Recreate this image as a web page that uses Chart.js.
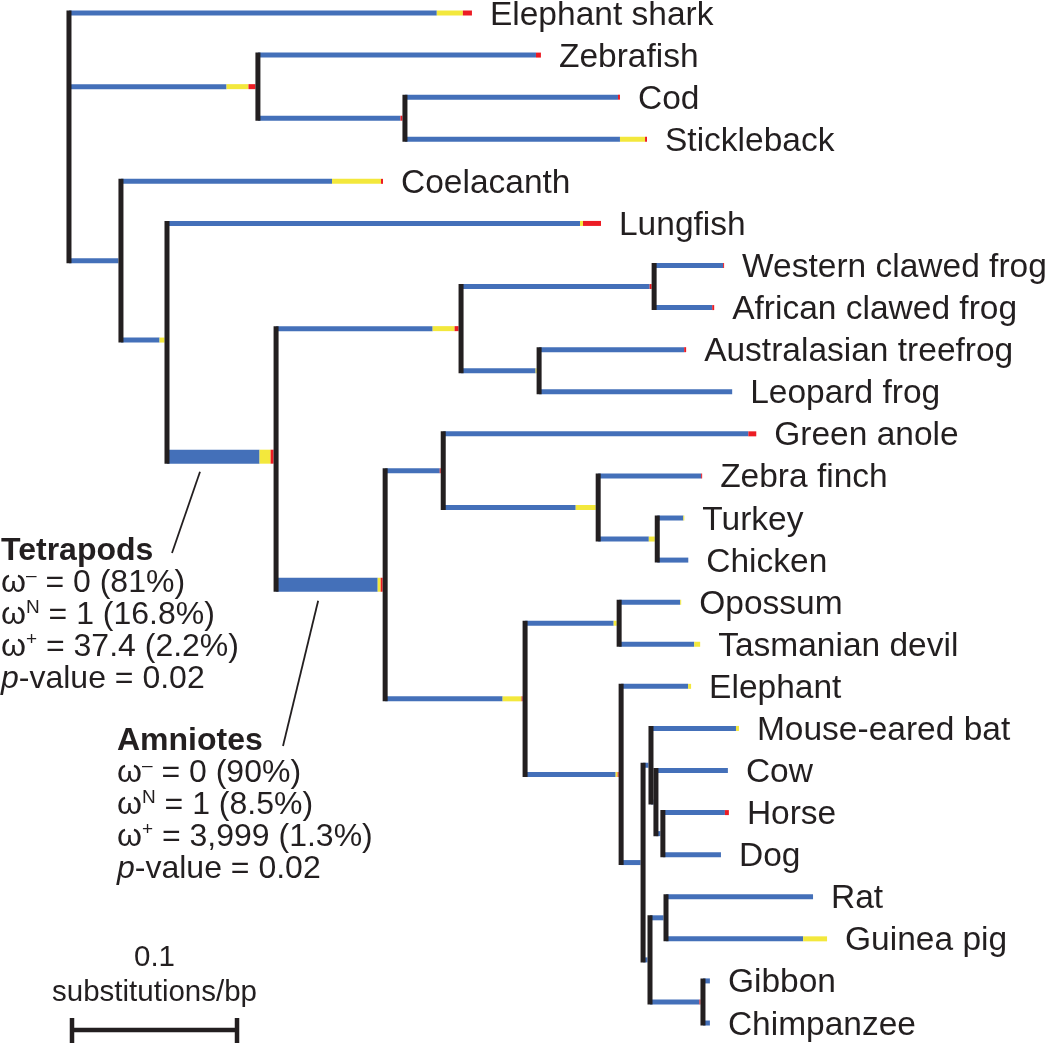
<!DOCTYPE html>
<html>
<head>
<meta charset="utf-8">
<title>Vertebrate tree - branch-site selection</title>
<script src="https://cdn.jsdelivr.net/npm/chart.js@4.4.1/dist/chart.umd.min.js"></script>
<style>
  html, body { margin: 0; padding: 0; background: #fff; }
  #wrap { width: 1050px; height: 1043px; position: relative; }
</style>
</head>
<body>
<div id="wrap"><canvas id="treeChart"></canvas></div>
<script>
// leaves, top to bottom
const taxa = [
  'Elephant shark', 'Zebrafish', 'Cod', 'Stickleback', 'Coelacanth', 'Lungfish',
  'Western clawed frog', 'African clawed frog', 'Australasian treefrog', 'Leopard frog',
  'Green anole', 'Zebra finch', 'Turkey', 'Chicken', 'Opossum', 'Tasmanian devil',
  'Elephant', 'Mouse-eared bat', 'Cow', 'Horse', 'Dog', 'Rat', 'Guinea pig', 'Gibbon', 'Chimpanzee'
];

// every branch, its parent node, and its length in substitutions/bp
const branchNames = [
  'Elephant shark', 'Actinopterygii', 'Zebrafish', 'Acanthomorpha', 'Cod', 'Stickleback',
  'Sarcopterygii', 'Coelacanth', 'Rhipidistia', 'Lungfish', 'Tetrapods',
  'Amphibians', 'Xenopus', 'Western clawed frog', 'African clawed frog',
  'Neobatrachia', 'Australasian treefrog', 'Leopard frog',
  'Amniotes', 'Sauropsids', 'Green anole', 'Birds', 'Zebra finch', 'Galliformes', 'Turkey', 'Chicken',
  'Mammals', 'Marsupials', 'Opossum', 'Tasmanian devil',
  'Eutherians', 'Elephant', 'Boreoeutheria', 'Laurasiatheria', 'Mouse-eared bat',
  'Fereuungulata', 'Cow', 'Zooamata', 'Horse', 'Dog',
  'Euarchontoglires', 'Glires', 'Rat', 'Guinea pig', 'Primates', 'Gibbon', 'Chimpanzee'
];
const branchParents = [
  'root', 'root', 'Actinopterygii', 'Actinopterygii', 'Acanthomorpha', 'Acanthomorpha',
  'root', 'Sarcopterygii', 'Sarcopterygii', 'Rhipidistia', 'Rhipidistia',
  'Tetrapods', 'Amphibians', 'Xenopus', 'Xenopus',
  'Amphibians', 'Neobatrachia', 'Neobatrachia',
  'Tetrapods', 'Amniotes', 'Sauropsids', 'Sauropsids', 'Birds', 'Birds', 'Galliformes', 'Galliformes',
  'Amniotes', 'Mammals', 'Marsupials', 'Marsupials',
  'Mammals', 'Eutherians', 'Eutherians', 'Boreoeutheria', 'Laurasiatheria',
  'Laurasiatheria', 'Fereuungulata', 'Fereuungulata', 'Zooamata', 'Zooamata',
  'Boreoeutheria', 'Euarchontoglires', 'Glires', 'Glires', 'Euarchontoglires', 'Primates', 'Primates'
];
const branchLengths = [
  0.2442, 0.1145, 0.1715, 0.0891, 0.1303, 0.1467,
  0.0315, 0.1588, 0.0279, 0.2630, 0.0661,
  0.1121, 0.1170, 0.0424, 0.0364,
  0.0473, 0.0891, 0.1170,
  0.0661, 0.0352, 0.1897, 0.0939, 0.0630, 0.0358, 0.0164, 0.0188,
  0.0848, 0.0570, 0.0376, 0.0491,
  0.0582, 0.0424, 0.0133, 0.0048, 0.0533,
  0.0030, 0.0436, 0.0042, 0.0400, 0.0352,
  0.0042, 0.0097, 0.0891, 0.0976, 0.0321, 0.0042, 0.0042
];
// part of each branch in the neutral class (omega N, yellow) and positive class (omega+, red)
const omegaNLengths = [
  0.0158, 0.0133, 0, 0, 0, 0.0152,
  0, 0.0297, 0.0030, 0.0018, 0.0067,
  0.0133, 0, 0, 0,
  0.0006, 0, 0,
  0.0018, 0, 0, 0.0121, 0, 0.0036, 0.0006, 0,
  0.0115, 0.0018, 0.0006, 0.0036,
  0.0012, 0.0018, 0, 0, 0.0018,
  0, 0, 0, 0, 0,
  0, 0, 0, 0.0145, 0, 0, 0
];
const omegaPlusLengths = [
  0.0055, 0.0042, 0.0030, 0.0012, 0.0012, 0.0012,
  0, 0.0012, 0, 0.0109, 0.0018,
  0.0024, 0.0012, 0.0006, 0.0012,
  0, 0.0012, 0,
  0.0012, 0.0006, 0.0048, 0, 0.0006, 0, 0, 0,
  0.0006, 0, 0, 0,
  0.0006, 0, 0, 0, 0,
  0, 0, 0, 0.0024, 0,
  0, 0, 0, 0, 0.0006, 0, 0
];

// branches tested for episodic selection (drawn thick)
const testedBranches = ['Tetrapods', 'Amniotes'];
const tetrapodStats = ['0 (81%)', '1 (16.8%)', '37.4 (2.2%)', '0.02'];
const amnioteStats = ['0 (90%)', '1 (8.5%)', '3,999 (1.3%)', '0.02'];
const scaleBarValue = 0.1;

const BLUE = '#4470b9';
const YELLOW = '#f3e83c';
const RED = '#ec1c24';
const INK = '#231f20';
const FONT = '"Liberation Sans", Arial, Helvetica, sans-serif';

const X_MIN = -0.0418, X_MAX = 0.5945;
const Y_MIN = -0.309, Y_MAX = 24.475;
const ROW_PX = 1043 / (Y_MAX - Y_MIN);
const COL_PX = 1050 / (X_MAX - X_MIN);
const NODE_W = 5; // connector width, px

// ---- tree layout ----
const depth = { root: 0 };
branchNames.forEach((n, i) => { depth[n] = depth[branchParents[i]] + branchLengths[i]; });

const childrenOf = name => branchNames.filter((n, i) => branchParents[i] === name);
const rowCache = {};
function rowOf(name) {
  if (name in rowCache) return rowCache[name];
  let r = taxa.indexOf(name);
  if (r < 0) {
    const rows = childrenOf(name).map(rowOf);
    r = (Math.min(...rows) + Math.max(...rows)) / 2;
  }
  rowCache[name] = r;
  return r;
}
const widthOf = name => testedBranches.includes(name) ? 14 : 5;

const datasets = [];

// horizontal branches: blue, then yellow, then red towards the tip
branchNames.forEach((n, i) => {
  const d0 = depth[branchParents[i]];
  // internal branches stop at the left edge of their node connector
  const d1 = depth[n] - (taxa.includes(n) ? 0 : NODE_W / 2 / COL_PX);
  const y = rowOf(n);
  const red = omegaPlusLengths[i];
  const yel = omegaNLengths[i];
  const xs = [d0, d1 - red - yel, d1 - red, d1];
  datasets.push({
    label: n,
    data: xs.map(x => ({ x, y })),
    borderWidth: widthOf(n),
    borderColor: BLUE,
    borderCapStyle: 'butt',
    segment: { borderColor: c => [BLUE, YELLOW, RED][c.p0DataIndex] },
    pointRadius: 0,
    order: 1
  });
});

// vertical connectors at every internal node
const internalNodes = ['root'].concat(branchNames.filter(n => !taxa.includes(n)));
internalNodes.forEach(node => {
  const kids = childrenOf(node).sort((a, b) => rowOf(a) - rowOf(b));
  const first = kids[0], last = kids[kids.length - 1];
  const top = rowOf(first) - widthOf(first) / 2 / ROW_PX;
  const bottom = rowOf(last) + widthOf(last) / 2 / ROW_PX;
  datasets.push({
    label: node + ' node',
    data: [{ x: depth[node], y: top }, { x: depth[node], y: bottom }],
    borderWidth: NODE_W,
    borderColor: INK,
    borderCapStyle: 'butt',
    pointRadius: 0,
    order: 0
  });
});

// ---- text, annotations and scale bar ----
function drawParts(ctx, x, y, parts) {
  parts.forEach(([text, font, dy]) => {
    ctx.font = font;
    ctx.fillText(text, x, y + (dy || 0));
    x += ctx.measureText(text).width;
  });
}

function drawStatsBlock(ctx, x, y, title, stats) {
  const main = '32px ' + FONT;
  const sup = '19px ' + FONT;
  ctx.font = 'bold 32px ' + FONT;
  ctx.fillText(title, x, y);
  const sups = ['\u2013', 'N', '+'];
  for (let k = 0; k < 3; k++) {
    drawParts(ctx, x, y + 32 * (k + 1), [['\u03c9', main], [sups[k], sup, -11], [' = ' + stats[k], main]]);
  }
  drawParts(ctx, x, y + 128, [['p', 'italic 32px ' + FONT], ['-value = ' + stats[3], main]]);
}

const treeText = {
  id: 'treeText',
  afterDatasetsDraw(chart) {
    const { ctx, scales: { x: xs, y: ys } } = chart;
    ctx.save();
    ctx.fillStyle = INK;
    ctx.textBaseline = 'alphabetic';
    ctx.font = '33.5px ' + FONT;
    taxa.forEach(t => {
      ctx.fillText(t, xs.getPixelForValue(depth[t]) + 18, ys.getPixelForValue(rowOf(t)) + 11.5);
    });

    // stats for the two tested branches
    drawStatsBlock(ctx, 1, 560, 'Tetrapods', tetrapodStats);
    drawStatsBlock(ctx, 117, 750, 'Amniotes', amnioteStats);

    ctx.strokeStyle = INK;
    ctx.lineWidth = 1.8;
    const tx = xs.getPixelForValue(depth['Rhipidistia'] + 0.02);
    const ty = ys.getPixelForValue(rowOf('Tetrapods')) + 15;
    ctx.beginPath(); ctx.moveTo(tx, ty); ctx.lineTo(172, 553); ctx.stroke();
    const ax = xs.getPixelForValue(depth['Tetrapods'] + 0.0255);
    const ay = ys.getPixelForValue(rowOf('Amniotes')) + 16;
    ctx.beginPath(); ctx.moveTo(ax, ay); ctx.lineTo(283, 746); ctx.stroke();

    // scale bar
    const len = xs.getPixelForValue(scaleBarValue) - xs.getPixelForValue(0);
    const x0 = 72, x1 = x0 + len, yb = 1030;
    ctx.lineWidth = 4.5;
    ctx.beginPath();
    ctx.moveTo(x0, yb); ctx.lineTo(x1, yb);
    ctx.moveTo(x0, 1018); ctx.lineTo(x0, 1043);
    ctx.moveTo(x1, 1018); ctx.lineTo(x1, 1043);
    ctx.stroke();
    ctx.textAlign = 'center';
    ctx.font = '29.5px ' + FONT;
    ctx.fillText(String(scaleBarValue), (x0 + x1) / 2, 966);
    ctx.fillText('substitutions/bp', (x0 + x1) / 2, 1001);
    ctx.restore();
  }
};

new Chart(document.getElementById('treeChart').getContext('2d'), {
  type: 'line',
  data: { datasets },
  options: {
    responsive: true,
    maintainAspectRatio: false,
    animation: false,
    events: [],
    layout: { padding: 0 },
    plugins: {
      legend: { display: false },
      tooltip: { enabled: false }
    },
    scales: {
      x: { type: 'linear', display: false, min: X_MIN, max: X_MAX },
      y: { type: 'linear', display: false, reverse: true, min: Y_MIN, max: Y_MAX }
    }
  },
  plugins: [treeText]
});
</script>
</body>
</html>
